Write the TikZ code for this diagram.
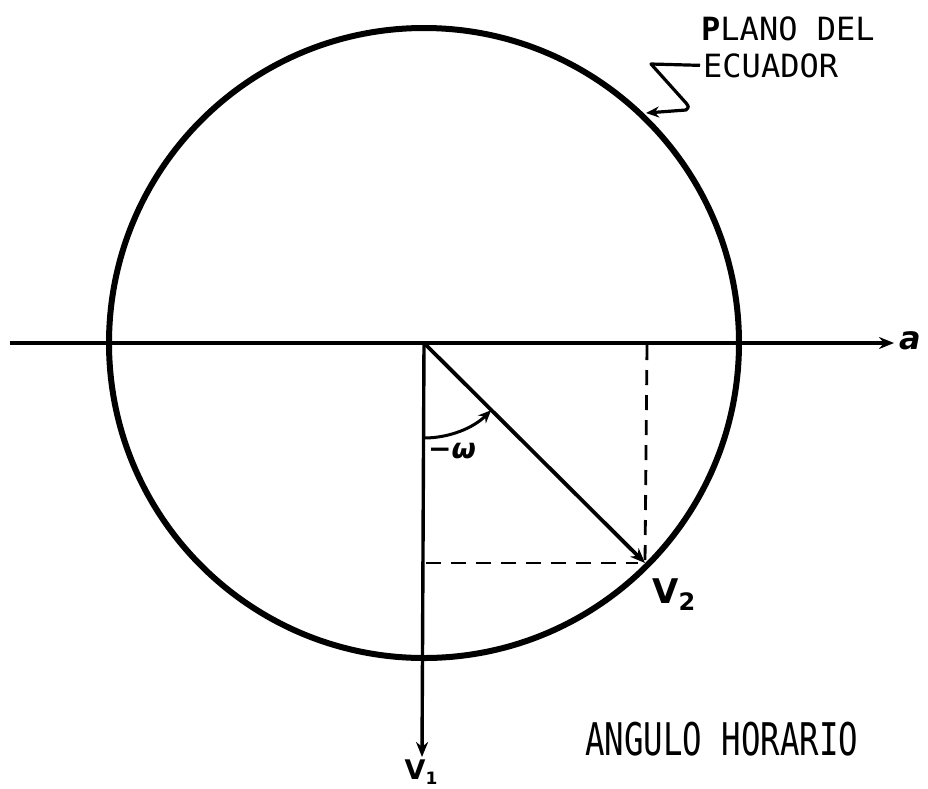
\documentclass[tikz,border=0pt]{standalone}
\usepackage{fontspec}
\newfontfamily\typefont{DejaVu Sans Mono}
\newfontfamily\handfont{DejaVu Sans}
\usetikzlibrary{arrows.meta}
\tikzset{
  axis/.style={line width=3.4pt,-{Stealth[length=15pt,width=12pt]}},
  rim/.style={line width=6pt},
  guide/.style={line width=2.8pt,dash pattern=on 15pt off 10pt},
  lbl/.style={inner sep=0pt,font=\typefont\fontsize{32}{32}\selectfont},
  hand/.style={inner sep=0pt}
}
\begin{document}
\begin{tikzpicture}[x=1pt,y=-1pt]
\useasboundingbox (0,0) rectangle (928,788);
\coordinate (O) at (424,343);
\coordinate (L) at (10,343);
\coordinate (R) at (894,343);
\coordinate (D) at (422,757);
\coordinate (P) at (645,563);
\coordinate (Ptop) at (647,345);
\coordinate (Pleft) at (426,563);
\coordinate (Pend) at (638,563);
% circle
\draw[rim] (O) circle[radius=315];
% axes
\draw[axis] (L) -- (R);
\draw[axis] (O) -- (D);
\draw[axis,line width=3.8pt] (O) -- (P);
% dashed projections
\draw[guide] (Ptop) -- (P);
\draw[guide] (Pleft) -- (Pend);
% angle arc
\draw[line width=3pt,-{Stealth[length=13pt,width=11pt]}] (O) ++(90:95) arc[start angle=90,end angle=45,radius=95];
% labels
\node[hand,anchor=west,font=\handfont\bfseries\itshape\fontsize{32}{32}\selectfont] (a) at (899,341) {a};
\node[hand,anchor=north,font=\handfont\bfseries\fontsize{27}{27}\selectfont] (v1) at (421,760) {V\raisebox{-5pt}{\fontsize{17}{17}\selectfont 1}};
\node[hand,anchor=north west,font=\handfont\bfseries\fontsize{34}{34}\selectfont] (v2) at (652,579) {V\raisebox{-7pt}{\fontsize{24}{24}\selectfont 2}};
\node[hand,anchor=west,font=\handfont\bfseries\fontsize{28}{28}\selectfont] (w) at (428,451) {−\textit{ω}};
\node[lbl,anchor=base west] (plano) at (701,40) {\textbf{P}LANO DEL};
\node[lbl,anchor=base west] (ecua) at (703,77) {ECUADOR};
\node[inner sep=0pt,anchor=base west,font=\typefont\fontsize{45}{45}\selectfont] (ang) at (585,755) {\scalebox{0.72}[1]{ANGULO HORARIO}};
% leader
\coordinate (k1) at (651,64);
\coordinate (k2) at (686,103);
\coordinate (k3) at (686,110);
\coordinate (tip) at (646,113);
\draw[line width=3.2pt,line join=round,-{Stealth[length=13pt,width=11pt]}] (ecua.west) ++(-3pt,0pt) -- (k1) -- (k2) .. controls (689,107) .. (k3) -- (tip);
\end{tikzpicture}
\end{document}
